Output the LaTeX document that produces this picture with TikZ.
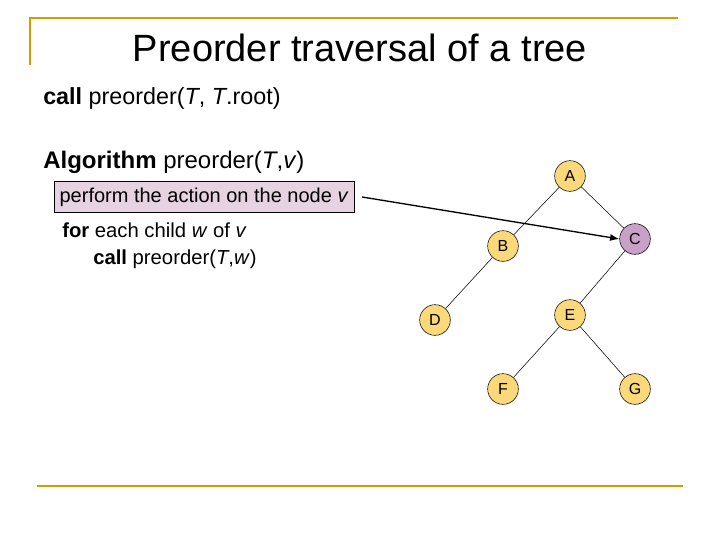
\documentclass[tikz,border=0pt]{standalone}
\usepackage{fontspec}
\setmainfont{Liberation Sans}
\usetikzlibrary{arrows.meta}
\definecolor{gold}{RGB}{200,160,0}
\definecolor{nodey}{RGB}{251,217,122}
\definecolor{nodep}{RGB}{200,160,200}
\definecolor{boxp}{RGB}{230,210,225}
\begin{document}
\begin{tikzpicture}[x=0.75pt,y=-0.75pt,
  tn/.style={circle,draw=black,fill=nodey,minimum size=23pt,inner sep=0pt,font=\fontsize{12}{13}\selectfont},
  edge/.style={draw=black,line width=0.4pt},
  txt/.style={anchor=west,inner sep=0pt,font=\fontsize{17.5}{20}\selectfont}]
\useasboundingbox (0,0) rectangle (720,540);
\draw[gold,line width=2pt] (30,65) -- (30,18) -- (678,18);
\draw[gold,line width=2pt] (37,486) -- (683,486);
\node[inner sep=0pt,font=\fontsize{28.5}{32}\selectfont] (title) at (360,48) {Preorder traversal of a tree};
\node[txt] (call) at (43,98) {\textbf{call} preorder(\textit{T}, \textit{T}.root)};
\node[txt,font=\fontsize{18}{20}\selectfont] (alg) at (43,162) {\textbf{Algorithm} preorder(\textit{T},\textit{v})};
\node[draw=black,fill=boxp,anchor=west,inner xsep=4pt,inner ysep=2pt,minimum height=23pt,font=\fontsize{15}{17}\selectfont] (act) at (54,197) {perform the action on the node \textit{v}};
\node[txt,font=\fontsize{15.2}{17}\selectfont] (for) at (62,230) {\textbf{for} each child \textit{w} of \textit{v}};
\node[txt,font=\fontsize{15.2}{17}\selectfont] (rec) at (93,259) {\textbf{call} preorder(\textit{T},\textit{w})};
\node[tn] (A) at (570,176) {A};
\node[tn] (B) at (503,246) {B};
\node[tn,fill=nodep] (C) at (635,239) {C};
\node[tn] (D) at (435,320) {D};
\node[tn] (E) at (570,315) {E};
\node[tn] (F) at (503,389) {F};
\node[tn] (G) at (635,389) {G};
\draw[edge] (A) -- (B);
\draw[edge] (A) -- (C);
\draw[edge] (B) -- (D);
\draw[edge] (C) -- (E);
\draw[edge] (E) -- (F);
\draw[edge] (E) -- (G);
\draw[line width=1pt,-{Latex[length=7pt]}] (act.east) ++(8,0) coordinate (s) -- (C.west);
\end{tikzpicture}
\end{document}
